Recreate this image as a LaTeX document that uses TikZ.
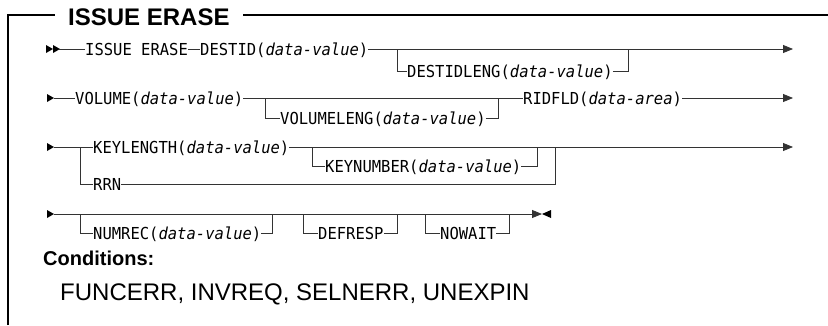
\documentclass[tikz,border=0pt]{standalone}
\usepackage{fontspec}
\setmainfont{Liberation Sans}
\newfontfamily\synfont[FakeStretch=0.94]{DejaVu Sans Mono}
\usetikzlibrary{arrows.meta,positioning}

\tikzset{
  rail/.style={draw=black!80, line width=0.8pt},
  frame/.style={draw=black, line width=1.2pt},
  tip/.style={-{Triangle[length=10pt,width=8pt]}},
  kw/.style={inner sep=0pt, anchor=west, font=\synfont\fontsize{16.5}{19}\selectfont,
    text height=12pt, text depth=0pt},
  head/.pic={\fill[black] (0,-4) -- (7,0) -- (0,4) -- cycle;},
  tail/.pic={\fill[black] (0,-4) -- (-9,0) -- (0,4) -- cycle;}
}
\newcommand{\dv}{\textit{data-value}}

\begin{document}
\begin{tikzpicture}[x=1pt,y=-1pt]
\useasboundingbox (0,0) rectangle (828,325);

% frame and title
\node[inner xsep=13pt, inner ysep=0pt, anchor=base west, font=\bfseries\fontsize{24}{28}\selectfont] (title) at (55,25) {ISSUE ERASE};
\draw[frame] (8,325) |- (55,15);
\draw[frame] (243,15) -- (828,15);

% row 1
\pic at (46,49) {head};
\pic at (53,49) {head};
\coordinate (r1s) at (59,49);
\node[kw] (issue) at (85,49) {ISSUE ERASE};
\node[kw] (destid) at (200,49) {DESTID(\dv)};
\node[kw] (destlen) at (407,71) {DESTIDLENG(\dv)};
\coordinate (r1a) at (397,49);
\coordinate (r1b) at (628,49);
\coordinate (r1e) at (793,49);
\draw[rail] (r1s) -- (issue.west);
\draw[rail] (issue.east) -- (destid.west);
\draw[rail,tip] (destid.east) -- (r1e);
\draw[rail] (r1a) |- (destlen.west);
\draw[rail] (destlen.east) -| (r1b);

% row 2
\pic at (47,98) {head};
\coordinate (r2s) at (54,98);
\node[kw] (volume) at (75,98) {VOLUME(\dv)};
\node[kw] (vollen) at (280,118) {VOLUMELENG(\dv)};
\node[kw] (ridfld) at (523,98) {RIDFLD(\textit{data-area})};
\coordinate (r2a) at (265,98);
\coordinate (r2b) at (498,98);
\coordinate (r2e) at (793,98);
\draw[rail] (r2s) -- (volume.west);
\draw[rail] (volume.east) -- (ridfld.west);
\draw[rail,tip] (ridfld.east) -- (r2e);
\draw[rail] (r2a) |- (vollen.west);
\draw[rail] (vollen.east) -| (r2b);

% row 3
\pic at (47,147) {head};
\coordinate (r3s) at (54,147);
\node[kw] (keylen) at (93,147) {KEYLENGTH(\dv)};
\node[kw] (keynum) at (325,166) {KEYNUMBER(\dv)};
\node[kw] (rrn) at (93,184) {RRN};
\coordinate (r3a) at (80,147);
\coordinate (r3b) at (312,147);
\coordinate (r3c) at (537,147);
\coordinate (r3d) at (555,147);
\coordinate (r3e) at (793,147);
\draw[rail] (r3s) -- (keylen.west);
\draw[rail,tip] (keylen.east) -- (r3e);
\draw[rail] (r3a) |- (rrn.west);
\draw[rail] (rrn.east) -| (r3d);
\draw[rail] (r3b) |- (keynum.west);
\draw[rail] (keynum.east) -| (r3c);

% row 4
\pic at (47,214) {head};
\coordinate (r4s) at (54,214);
\coordinate (r4e) at (542,214);
\pic at (551,214) {tail};
\node[kw] (numrec) at (93,233) {NUMREC(\dv)};
\node[kw] (defresp) at (318,233) {DEFRESP};
\node[kw] (nowait) at (440,233) {NOWAIT};
\coordinate (r4a) at (80,214);
\coordinate (r4b) at (272,214);
\coordinate (r4c) at (303,214);
\coordinate (r4d) at (397,214);
\coordinate (r4f) at (425,214);
\coordinate (r4g) at (509,214);
\draw[rail,tip] (r4s) -- (r4e);
\draw[rail] (r4a) |- (numrec.west);
\draw[rail] (numrec.east) -| (r4b);
\draw[rail] (r4c) |- (defresp.west);
\draw[rail] (defresp.east) -| (r4d);
\draw[rail] (r4f) |- (nowait.west);
\draw[rail] (nowait.east) -| (r4g);

% conditions
\node[inner sep=0pt, anchor=base west, font=\bfseries\fontsize{20}{24}\selectfont] (cond) at (43,265) {Conditions:};
\node[inner sep=0pt, anchor=base west, font=\fontsize{24}{28}\selectfont] (condlist) at (60,300) {FUNCERR, INVREQ, SELNERR, UNEXPIN};
\end{tikzpicture}
\end{document}
